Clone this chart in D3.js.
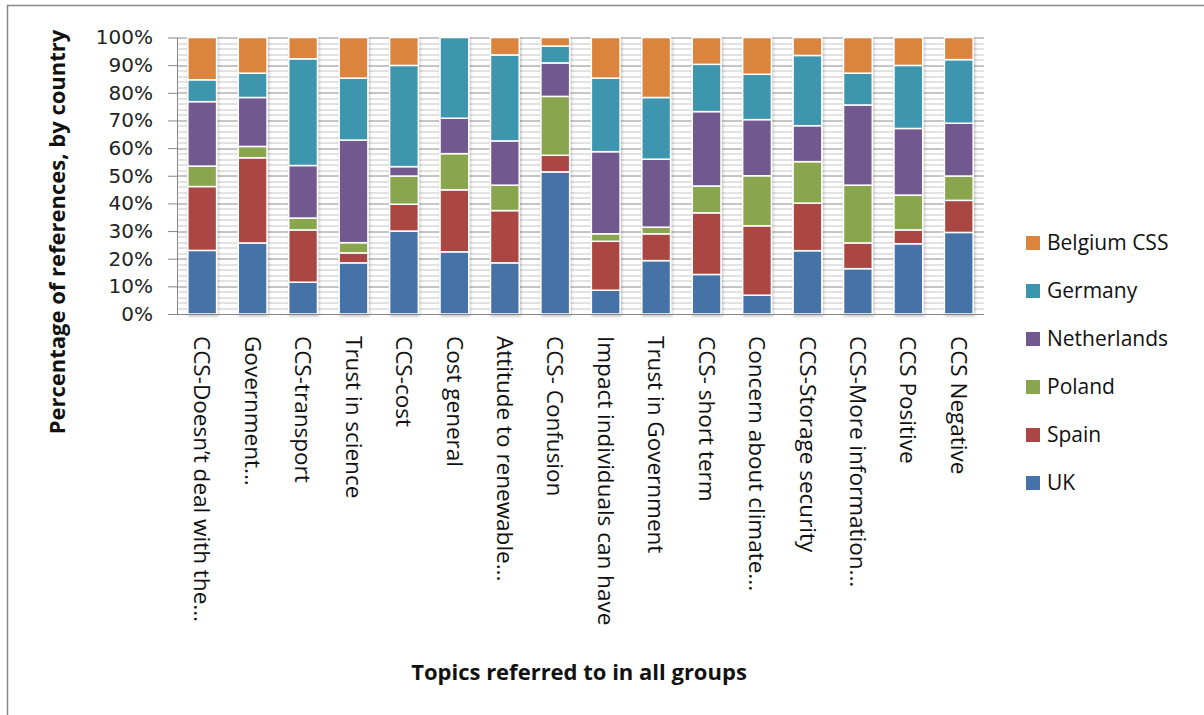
<!DOCTYPE html>
<html>
<head>
<meta charset="utf-8">
<script src="https://cdn.jsdelivr.net/npm/d3@7"></script>
<style>
  body { margin: 0; background: #fff; }
  svg { display: block; }
</style>
</head>
<body>
<div id="chart"></div>
<script>
const topics = [
  "CCS-Doesn\u2019t deal with the...",
  "Government...",
  "CCS-transport",
  "Trust in science",
  "CCS-cost",
  "Cost general",
  "Attitude to renewable...",
  "CCS- Confusion",
  "Impact individuals can have",
  "Trust in Government",
  "CCS- short term",
  "Concern about climate...",
  "CCS-Storage security",
  "CCS-More information...",
  "CCS Positive",
  "CCS Negative"
];

// stacking order bottom -> top
const countries = ["UK", "Spain", "Poland", "Netherlands", "Germany", "Belgium CSS"];

const uk          = [23.0, 25.7, 11.5, 18.5, 30.0, 22.5, 18.5, 51.4,  8.6, 19.3, 14.3,  6.8, 22.9, 16.4, 25.4, 29.5];
const spain       = [23.1, 30.8, 18.9,  3.6,  9.7, 22.4, 18.9,  6.0, 17.7,  9.7, 22.3, 25.1, 17.2,  9.3,  5.0, 11.6];
const poland      = [ 7.4,  4.1,  4.3,  3.7, 10.2, 13.1,  9.2, 21.3,  2.7,  2.4,  9.7, 18.1, 15.0, 20.9, 12.6,  8.8];
const netherlands = [23.3, 17.7, 19.0, 37.1,  3.4, 12.8, 16.0, 12.1, 29.7, 24.6, 26.9, 20.3, 13.0, 29.0, 24.1, 19.1];
const germany     = [ 7.9,  8.8, 38.6, 22.4, 36.6, 29.2, 31.1,  6.1, 26.6, 22.3, 17.1, 16.4, 25.4, 11.5, 22.8, 23.0];
const belgium     = [15.3, 12.9,  7.7, 14.7, 10.1,  0.0,  6.3,  3.1, 14.7, 21.7,  9.7, 13.3,  6.5, 12.9, 10.1,  8.0];

const yTicks = [0, 10, 20, 30, 40, 50, 60, 70, 80, 90, 100];

const colors = {
  "UK": "#4572A7",
  "Spain": "#AA4643",
  "Poland": "#89A54E",
  "Netherlands": "#71588F",
  "Germany": "#3D96AE",
  "Belgium CSS": "#DB843D"
};

const seriesValues = [uk, spain, poland, netherlands, germany, belgium];
const rows = topics.map((t, i) => {
  const r = {topic: t};
  countries.forEach((c, j) => r[c] = seriesValues[j][i]);
  return r;
});

const W = 1204, H = 715;
const margin = {top: 37.5, left: 177};
const width = 807, height = 276.5;
const labelFont = "'Open Sans', Lato, sans-serif";

const svg = d3.select("#chart").append("svg")
  .attr("width", W).attr("height", H);

// outer chart border
svg.append("rect")
  .attr("x", 7.5).attr("y", 5.5)
  .attr("width", W + 10).attr("height", H + 10)
  .attr("fill", "#fff")
  .attr("stroke", "#878787").attr("stroke-width", 1.5);

const defs = svg.append("defs");
const shadow = defs.append("filter").attr("id", "shadow")
  .attr("x", "-30%").attr("y", "-5%").attr("width", "160%").attr("height", "110%");
shadow.append("feDropShadow")
  .attr("dx", 1).attr("dy", 1.5).attr("stdDeviation", 1.5)
  .attr("flood-color", "#000").attr("flood-opacity", 0.25);

const g = svg.append("g").attr("transform", `translate(${margin.left},${margin.top})`);

const x = d3.scaleBand().domain(topics).range([0, width]).paddingInner(0.43).paddingOuter(0.215);
const y = d3.scaleLinear().domain([0, 100]).range([height, 0]);

// minor gridlines every 2%
g.append("g").selectAll("line")
  .data(d3.range(2, 100, 2).filter(v => v % 10 !== 0))
  .join("line")
  .attr("x1", 0).attr("x2", width)
  .attr("y1", d => Math.round(y(d)) + 0.5).attr("y2", d => Math.round(y(d)) + 0.5)
  .attr("stroke", "#c6c6c6").attr("stroke-width", 1);

// major gridlines
g.append("g").selectAll("line")
  .data(yTicks.slice(1))
  .join("line")
  .attr("x1", 0).attr("x2", width)
  .attr("y1", d => Math.round(y(d)) + 0.5).attr("y2", d => Math.round(y(d)) + 0.5)
  .attr("stroke", "#8c8c8c").attr("stroke-width", 1);

const stacked = d3.stack().keys(countries)(rows);

g.append("g").attr("filter", "url(#shadow)")
  .selectAll("g")
  .data(stacked)
  .join("g")
  .attr("fill", d => colors[d.key])
  .selectAll("rect")
  .data(d => d.filter(s => s[1] - s[0] > 0))
  .join("rect")
  .attr("x", d => x(d.data.topic))
  .attr("y", d => y(d[1]))
  .attr("width", x.bandwidth())
  .attr("height", d => y(d[0]) - y(d[1]))
  .attr("stroke", "#fff")
  .attr("stroke-width", 1.5);

// y axis
const yAxis = g.append("g")
  .call(d3.axisLeft(y).tickValues(yTicks).tickFormat(d => d + "%")
    .tickSize(9).tickSizeOuter(0).tickPadding(15));
yAxis.select(".domain").attr("stroke", "#868686");
yAxis.selectAll(".tick line").attr("stroke", "#868686");
yAxis.selectAll("text")
  .attr("fill", "#222")
  .style("font-family", "'DejaVu Sans', Verdana, sans-serif")
  .style("font-size", "20px");

// x axis
const xAxis = g.append("g")
  .attr("transform", `translate(0,${height})`)
  .call(d3.axisBottom(x).tickSize(0).tickSizeOuter(0).tickFormat(""));
xAxis.select(".domain").attr("stroke", "#868686")
  .attr("d", `M-9,0.5H${width}`);

// rotated category labels
g.append("g").selectAll("text")
  .data(topics)
  .join("text")
  .attr("transform", d => `translate(${x(d) + x.bandwidth() / 2},${height + 22}) rotate(90)`)
  .attr("dy", "0.35em")
  .attr("fill", "#111")
  .style("font-family", labelFont)
  .style("font-size", "22.5px")
  .text(d => d);

// axis titles
svg.append("text")
  .attr("transform", `translate(57,232) rotate(-90)`)
  .attr("text-anchor", "middle")
  .attr("dy", "0.35em")
  .style("font-family", labelFont)
  .style("font-weight", "bold")
  .style("font-size", "22px")
  .attr("fill", "#111")
  .text("Percentage of references, by country");

svg.append("text")
  .attr("x", 579).attr("y", 672)
  .attr("text-anchor", "middle")
  .attr("dy", "0.35em")
  .style("font-family", labelFont)
  .style("font-weight", "bold")
  .style("font-size", "22px")
  .attr("fill", "#111")
  .text("Topics referred to in all groups");

// legend (top to bottom: reversed stack order)
const legend = svg.append("g").attr("transform", "translate(1026,243)");
const items = legend.selectAll("g")
  .data(countries.slice().reverse())
  .join("g")
  .attr("transform", (d, i) => `translate(0,${i * 48})`);
items.append("rect")
  .attr("x", 0).attr("y", -7)
  .attr("width", 14).attr("height", 14)
  .attr("fill", d => colors[d]);
items.append("text")
  .attr("x", 21).attr("y", 0)
  .attr("dy", "0.35em")
  .style("font-family", labelFont)
  .style("font-size", "21px")
  .attr("fill", "#111")
  .text(d => d);
</script>
</body>
</html>
